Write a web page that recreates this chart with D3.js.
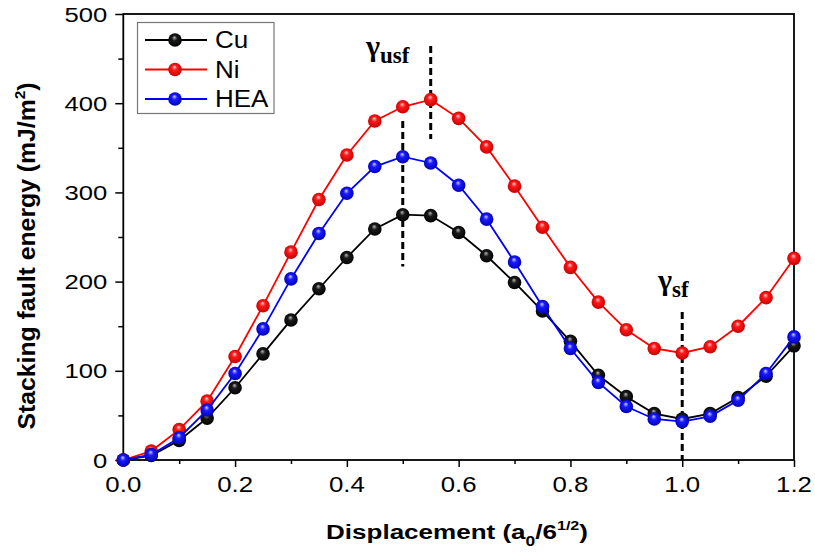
<!DOCTYPE html>
<html>
<head>
<meta charset="utf-8">
<script src="https://cdn.jsdelivr.net/npm/d3@7/dist/d3.min.js"></script>
<style>
  html, body { margin: 0; padding: 0; background: #fff; }
  svg { display: block; }
  text { font-family: "Liberation Sans", Arial, sans-serif; fill: #000; }
</style>
</head>
<body>
<svg id="chart" width="815" height="554"></svg>
<script>
// Generalized stacking fault energy along the <112> slip path
const displacement = [0, 0.05, 0.1, 0.15, 0.2, 0.25, 0.3, 0.35, 0.4, 0.45, 0.5, 0.55, 0.6,
                      0.65, 0.7, 0.75, 0.8, 0.85, 0.9, 0.95, 1.0, 1.05, 1.1, 1.15, 1.2];
const cuValues  = [0, 5, 22, 47, 81, 119, 157, 192, 227, 259, 275, 274, 255,
                   229, 199, 167, 133, 95, 71, 52, 46, 52, 70, 94, 128];
const niValues  = [0, 10, 34, 66, 116, 173, 233, 292, 342, 380, 396, 404, 383,
                   351, 307, 261, 216, 177, 146, 125, 120, 127, 150, 182, 226];
const heaValues = [0, 6, 25, 56, 97, 147, 203, 254, 299, 329, 340, 333, 308,
                   270, 222, 172, 125, 87, 60, 46, 43, 49, 67, 97, 138];
const seriesNames  = ["Cu", "Ni", "HEA"];
const seriesColors = ["#000000", "#ff0000", "#0000ff"];
const xTicks = [0, 0.2, 0.4, 0.6, 0.8, 1.0, 1.2];
const yTicks = [0, 100, 200, 300, 400, 500];

const series = [cuValues, niValues, heaValues].map((vals, i) => ({
  name: seriesNames[i], color: seriesColors[i],
  points: vals.map((v, j) => ({x: displacement[j], y: v}))
}));

const svg = d3.select("#chart");
const plotL = 123.3, plotR = 794, plotT = 14, plotB = 460;
const x = d3.scaleLinear().domain([0, 1.2]).range([plotL, plotR]);
const y = d3.scaleLinear().domain([0, 500]).range([plotB, plotT]);

// glossy marker gradients
const defs = svg.append("defs");
const shades = {
  "#000000": ["#b8b8b8", "#1a1a1a", "#000000"],
  "#ff0000": ["#ffd0d0", "#ff1a1a", "#c00000"],
  "#0000ff": ["#d0d0ff", "#1a1aff", "#0000b0"]
};
seriesColors.forEach((c, i) => {
  const g = defs.append("radialGradient").attr("id", "ball" + i)
    .attr("cx", "50%").attr("cy", "50%").attr("r", "55%")
    .attr("fx", "45%").attr("fy", "30%");
  g.append("stop").attr("offset", "0%").attr("stop-color", shades[c][0]);
  g.append("stop").attr("offset", "35%").attr("stop-color", shades[c][1]);
  g.append("stop").attr("offset", "100%").attr("stop-color", shades[c][2]);
});

// helper for horizontally widened text
function wideText(px, py, str, size, anchor, sx, weight) {
  return svg.append("text")
    .attr("transform", `translate(${px},${py}) scale(${sx},1)`)
    .attr("text-anchor", anchor)
    .attr("font-size", size)
    .attr("font-weight", weight || "normal")
    .text(str);
}

// axes with outward major and minor ticks
const xAxis = d3.axisBottom(x).tickValues(xTicks).tickSize(7).tickFormat(() => "");
const xMinor = d3.axisBottom(x).tickValues([0.1, 0.3, 0.5, 0.7, 0.9, 1.1]).tickSize(4).tickFormat(() => "");
const yAxis = d3.axisLeft(y).tickValues(yTicks).tickSize(8).tickFormat(() => "");
const yMinor = d3.axisLeft(y).tickValues([50, 150, 250, 350, 450]).tickSize(5).tickFormat(() => "");

[[xAxis, `translate(0,${plotB})`], [xMinor, `translate(0,${plotB})`],
 [yAxis, `translate(${plotL},0)`], [yMinor, `translate(${plotL},0)`]].forEach(([ax, tr]) => {
  const g = svg.append("g").attr("transform", tr).call(ax);
  g.select(".domain").remove();
  g.selectAll("line").attr("stroke", "#000").attr("stroke-width", 1.5);
});

// frame
svg.append("rect").attr("x", plotL).attr("y", plotT)
  .attr("width", plotR - plotL).attr("height", plotB - plotT)
  .attr("fill", "none").attr("stroke", "#000").attr("stroke-width", 1.8);

// tick labels
xTicks.forEach(t => wideText(x(t), 492, d3.format(".1f")(t), 21.5, "middle", 1.2));
yTicks.forEach(t => wideText(plotL - 16, y(t) + 7.5, String(t), 20.5, "end", 1.25));

// axis titles
const xt = svg.append("text")
  .attr("transform", "translate(457,539) scale(1.24,1)")
  .attr("text-anchor", "middle").attr("font-size", 21).attr("font-weight", "bold");
xt.append("tspan").text("Displacement (a");
xt.append("tspan").attr("font-size", 14).attr("dy", 7).text("0");
xt.append("tspan").attr("dy", -7).text("/6");
xt.append("tspan").attr("font-size", 13).attr("dy", -9).text("1/2");
xt.append("tspan").attr("dy", 9).text(")");

const yt = svg.append("text")
  .attr("transform", "translate(35,256) rotate(-90) scale(1.18,1.15)")
  .attr("text-anchor", "middle").attr("font-size", 21).attr("font-weight", "bold");
yt.append("tspan").text("Stacking fault energy (mJ/m");
yt.append("tspan").attr("font-size", 13).attr("dy", -9).text("2");
yt.append("tspan").attr("dy", 9).text(")");

// dashed markers at the unstable and stable stacking fault positions
const guides = [
  {x: 0.55, y0: 464, y1: 360},
  {x: 0.5,  y0: 380, y1: 217},
  {x: 1.0,  y0: 166, y1: 0}
];
svg.selectAll(".guide").data(guides).enter().append("line")
  .attr("x1", d => x(d.x)).attr("x2", d => x(d.x))
  .attr("y1", d => y(d.y0)).attr("y2", d => y(d.y1))
  .attr("stroke", "#000").attr("stroke-width", 3).attr("stroke-dasharray", "7,4");

// series lines and markers
const line = d3.line().x(d => x(d.x)).y(d => y(d.y));
series.forEach((s, i) => {
  svg.append("path").datum(s.points).attr("d", line)
    .attr("fill", "none").attr("stroke", s.color).attr("stroke-width", 1.8);
  svg.append("g").selectAll("circle").data(s.points).enter().append("circle")
    .attr("cx", d => x(d.x)).attr("cy", d => y(d.y)).attr("r", 6.8)
    .attr("fill", `url(#ball${i})`);
});

// gamma labels
function gammaLabel(px, py, sub) {
  const t = svg.append("text").attr("x", px).attr("y", py)
    .style("font-family", "'Liberation Serif', 'Times New Roman', serif")
    .attr("font-weight", "bold").attr("font-size", 30);
  t.append("tspan").text("γ");
  t.append("tspan").attr("font-size", 23).attr("dy", 7).text(sub);
}
gammaLabel(366, 56, "usf");
gammaLabel(658, 290, "sf");

// legend
const lg = svg.append("g");
lg.append("rect").attr("x", 137.5).attr("y", 22.5).attr("width", 136.5).attr("height", 91)
  .attr("fill", "#fff").attr("stroke", "#777").attr("stroke-width", 1.2);
series.forEach((s, i) => {
  const ly = 40 + i * 29.5;
  lg.append("line").attr("x1", 145).attr("x2", 207).attr("y1", ly).attr("y2", ly)
    .attr("stroke", s.color).attr("stroke-width", 1.8);
  lg.append("circle").attr("cx", 175).attr("cy", ly).attr("r", 6.8).attr("fill", `url(#ball${i})`);
  lg.append("text").attr("transform", `translate(215,${ly + 8}) scale(1.13,1)`)
    .attr("font-size", 23).text(s.name);
});
</script>
</body>
</html>
